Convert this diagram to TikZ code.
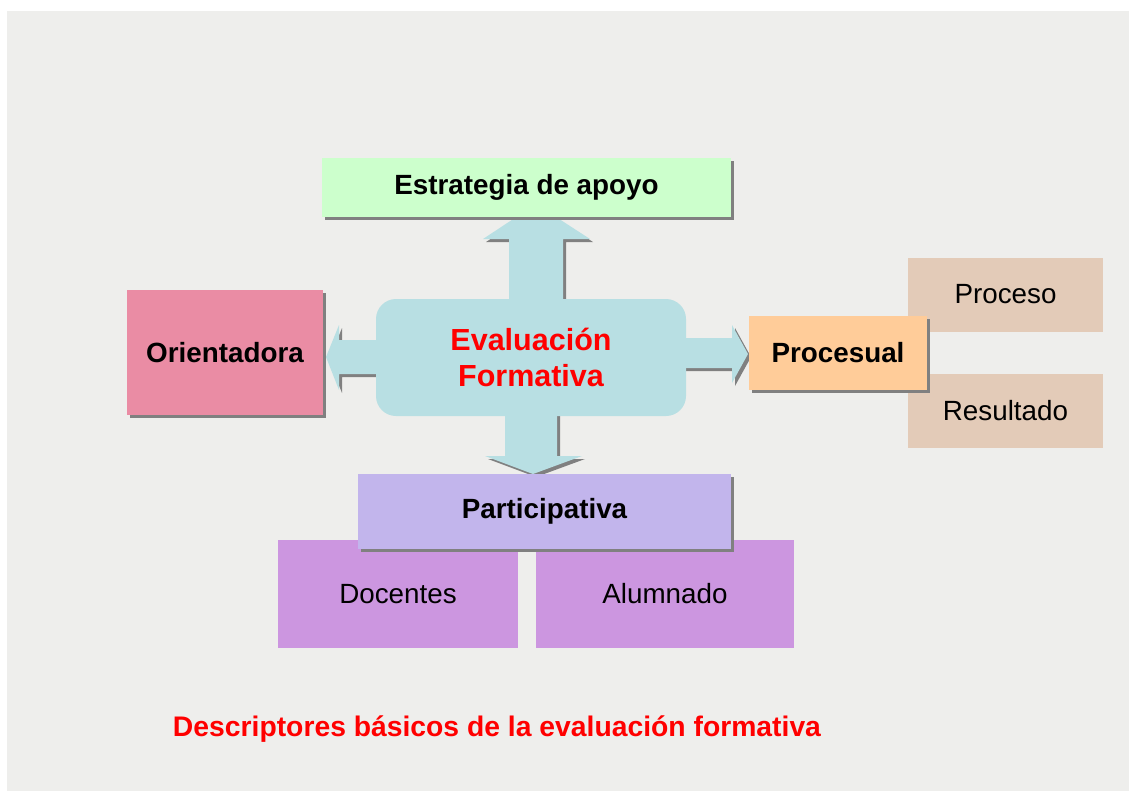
\documentclass[tikz,border=0pt]{standalone}
\usepackage{fontspec}
\setmainfont{Liberation Sans}
\usetikzlibrary{shadows}
\definecolor{bg}{HTML}{EEEEEC}
\definecolor{shadowgray}{HTML}{808080}
\definecolor{greenbox}{HTML}{CCFFCC}
\definecolor{pinkbox}{HTML}{EA8CA4}
\definecolor{cyanbox}{HTML}{B8DFE3}
\definecolor{orangebox}{HTML}{FFCC99}
\definecolor{tanbox}{HTML}{E3CBB8}
\definecolor{lavbox}{HTML}{C2B5EC}
\definecolor{orchidbox}{HTML}{CC96E0}
\definecolor{redtext}{HTML}{FF0000}
\tikzset{
  box/.style={rectangle, inner sep=0pt, align=center, font=\bfseries\fontsize{27.8}{32}\selectfont},
  plainbox/.style={rectangle, inner sep=0pt, align=center, font=\fontsize{27.8}{32}\selectfont},
  sh/.style={drop shadow={shadow xshift=3pt, shadow yshift=-3pt, fill=shadowgray, opacity=1}},
  arrowshape/.style={fill=cyanbox, sh}
}
\begin{document}
\begin{tikzpicture}[x=1pt,y=-1pt]
\useasboundingbox (0,0) rectangle (1129,796);
\fill[white] (0,0) rectangle (1129,796);
\fill[bg] (7,11) rectangle (1129,791);

% arrows
\fill[arrowshape] (509,300) -- (509,239) -- (483,239) -- (536,204) -- (590,239) -- (563,239) -- (563,300) -- cycle;
\fill[arrowshape] (505,410) -- (505,456) -- (485,456) -- (533,474) -- (582,456) -- (557,456) -- (557,410) -- cycle;
\fill[arrowshape] (380,340) -- (339,340) -- (339,325) -- (326,357) -- (339,390) -- (339,374) -- (380,374) -- cycle;
\fill[arrowshape] (680,338) -- (732,338) -- (732,325) -- (748,354) -- (732,383) -- (732,368) -- (680,368) -- cycle;

% centre
\node[box, fill=cyanbox, rounded corners=20pt, minimum width=310pt, minimum height=117pt,
      text=redtext, font=\bfseries\fontsize{30.5}{36}\selectfont] (eva) at (531,357.5) {Evaluación\\Formativa};

% boxes
\node[box, sh, fill=greenbox, minimum width=409pt, minimum height=59pt] (est) at (526.5,187.5) {Estrategia de apoyo};
\node[box, sh, fill=pinkbox, minimum width=196pt, minimum height=125pt] (ori) at (225,352.5) {Orientadora};

\node[plainbox, fill=tanbox, minimum width=195pt, minimum height=74pt] (proc) at (1005.5,294.5) {Proceso};
\node[plainbox, fill=tanbox, minimum width=195pt, minimum height=74pt] (res) at (1005.5,410.5) {Resultado};
\node[box, sh, fill=orangebox, minimum width=178pt, minimum height=74pt] (pcs) at (838,353) {Procesual};

\node[plainbox, fill=orchidbox, minimum width=240pt, minimum height=108pt] (doc) at (398,594) {Docentes};
\node[plainbox, fill=orchidbox, minimum width=258pt, minimum height=108pt] (alu) at (665,594) {Alumnado};
\node[box, sh, fill=lavbox, minimum width=373pt, minimum height=75pt] (par) at (544.5,511) {Participativa};

\node[box, text=redtext, font=\bfseries\fontsize{28.3}{32}\selectfont] (title) at (497,729) {Descriptores básicos de la evaluación formativa};
\end{tikzpicture}
\end{document}
